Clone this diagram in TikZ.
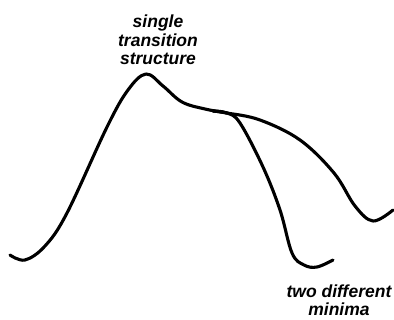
\documentclass[tikz,border=0pt]{standalone}
\usepackage{fontspec}
\setmainfont{Liberation Sans}
\usetikzlibrary{positioning}

\begin{document}
\begin{tikzpicture}[x=1pt, y=-1pt, line join=round, line cap=round]
      \tikzset{curve/.style={line width=3.1pt},
        lbl/.style={align=center, font=\fontsize{17.5}{18.5}\selectfont\bfseries\itshape, inner sep=0pt}}
      \useasboundingbox (0,0) rectangle (394,320);
      % single path up to the shoulder, then two branches
      \coordinate (S) at (227,113);
      \draw[curve] plot[smooth, tension=0.6] coordinates {(10,255) (25,260) (45,246) (67,213)
        (107,127) (128,90) (146,74) (163,86) (182,102) (205,109) (S)};
      \draw[curve] plot[smooth, tension=0.6] coordinates {(213,111) (S) (240,123) (263,167)
        (280,210) (292,253) (304,265) (317,267) (333,260)};
      \draw[curve] plot[smooth, tension=0.6] coordinates {(213,111) (S) (260,120) (300,140)
        (334,173) (355,206) (373,221) (393,210)};
      \node[lbl] (ts) at (158,40) {single\\transition\\structure};
      \node[lbl] (mins) at (339,300) {two different\\minima};
    \end{tikzpicture}
\end{document}
